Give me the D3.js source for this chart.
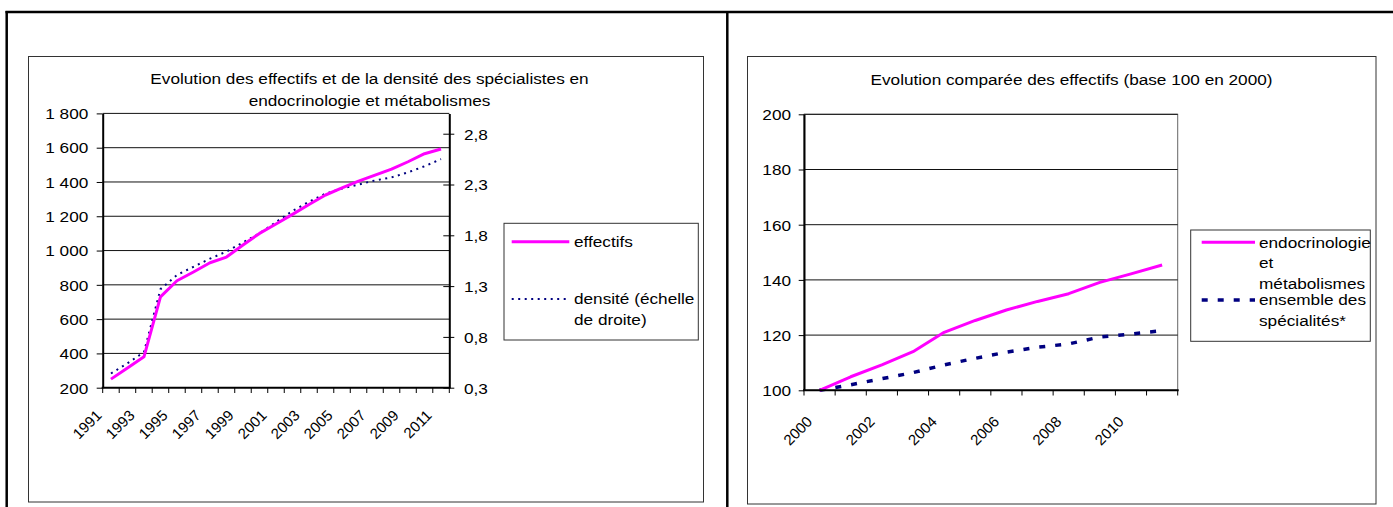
<!DOCTYPE html>
<html><head><meta charset="utf-8">
<script src="https://cdn.jsdelivr.net/npm/d3@7"></script>
<style>
html,body{margin:0;padding:0;background:#fff;}
svg{display:block;font-family:"Liberation Sans",Arial,sans-serif;}
</style></head><body>
<svg id="c" width="1393" height="507"></svg>
<script>
// ---------- Data: left chart ----------
const years1 = [1991,1992,1993,1994,1995,1996,1997,1998,1999,2000,2001,2002,2003,2004,2005,2006,2007,2008,2009,2010,2011];
const effectifs = [250,315,380,730,824,875,929,962,1032,1100,1155,1211,1269,1324,1365,1405,1440,1475,1518,1565,1592];
const densite = [0.44,0.54,0.65,1.27,1.41,1.49,1.57,1.64,1.73,1.82,1.93,2.04,2.13,2.21,2.26,2.30,2.34,2.37,2.42,2.48,2.55];
const ticksLeft1 = [200,400,600,800,1000,1200,1400,1600,1800];
const ticksRight1 = [0.3,0.8,1.3,1.8,2.3,2.8];
const labelYears1 = [1991,1993,1995,1997,1999,2001,2003,2005,2007,2009,2011];
const title1 = ["Evolution des effectifs et de la densité des spécialistes en","endocrinologie et métabolismes"];
const legend1 = [["effectifs"],["densité (échelle","de droite)"]];

// ---------- Data: right chart ----------
const years2 = [2000,2001,2002,2003,2004,2005,2006,2007,2008,2009,2010,2011];
const endocrino = [100,104.9,109.2,114.0,121.0,125.3,129.1,132.2,135.0,139.1,142.2,145.4];
const ensemble = [100,102.0,104.2,106.4,109.2,111.6,113.8,115.6,116.8,119.3,120.4,121.6];
const ticks2 = [100,120,140,160,180,200];
const labelYears2 = [2000,2002,2004,2006,2008,2010];
const title2 = "Evolution comparée des effectifs (base 100 en 2000)";
const legend2 = [["endocrinologie","et","métabolismes"],["ensemble des","spécialités*"]];

const MAGENTA = "#ff00ff", NAVY = "#000080";
const FS = 15.5, SX = 1.11;
const svg = d3.select("#c");

function txt(g, x, y, s, anchor){
  return g.append("text")
    .attr("transform", `translate(${x},${y}) scale(${SX},1)`)
    .attr("text-anchor", anchor || "start")
    .attr("font-size", FS).attr("fill", "#000").text(s);
}
function hline(g, x1, x2, y, w, c){ g.append("line").attr("x1",x1).attr("x2",x2).attr("y1",y).attr("y2",y).attr("stroke",c||"#000").attr("stroke-width",w); }
function vline(g, x, y1, y2, w, c){ g.append("line").attr("x1",x).attr("x2",x).attr("y1",y1).attr("y2",y2).attr("stroke",c||"#000").attr("stroke-width",w); }

// ---------- page lines ----------
hline(svg, 5.5, 1393, 12, 2.5);
vline(svg, 6.7, 11, 507, 2.5);
vline(svg, 727.3, 11, 507, 2.5);

// chart frames
svg.append("rect").attr("x",28.5).attr("y",56.5).attr("width",675).attr("height",445.5)
  .attr("fill","none").attr("stroke","#333").attr("stroke-width",1);
svg.append("rect").attr("x",747.5).attr("y",56.5).attr("width",628.5).attr("height",447.5)
  .attr("fill","none").attr("stroke","#333").attr("stroke-width",1);

// ================= LEFT CHART =================
(function(){
  const g = svg.append("g");
  const x = d3.scaleBand().domain(years1).range([102.7, 449.3]);
  const bw = x.bandwidth();
  const yL = d3.scaleLinear().domain([200,1800]).range([387.7,113.4]);
  const yR = d3.scaleLinear().domain([0.3,3.0]).range([387.7,113.4]);
  const cx = d => x(d) + bw/2;

  // title
  txt(g, 369.5, 84.3, title1[0], "middle");
  txt(g, 369.5, 105.8, title1[1], "middle");

  // gridlines
  ticksLeft1.filter(t => t > 200).forEach(t => hline(g, 102.7, 449.3, yL(t), 1, "#111"));

  // series
  const lineE = d3.line().x((d,i) => cx(years1[i])).y(d => yL(d));
  const lineD = d3.line().x((d,i) => cx(years1[i])).y(d => yR(d));
  g.append("path").datum(densite).attr("d", lineD).attr("fill","none")
    .attr("stroke", NAVY).attr("stroke-width", 2).attr("stroke-dasharray","2,4.5");
  g.append("path").datum(effectifs).attr("d", lineE).attr("fill","none")
    .attr("stroke", MAGENTA).attr("stroke-width", 3).attr("stroke-linejoin","round");

  // left axis
  const fmtL = d => d3.format(",")(d).replace(/,/g, " ");
  const aL = g.append("g").attr("transform","translate(102.7,0)")
    .call(d3.axisLeft(yL).tickValues(ticksLeft1).tickSize(6).tickSizeOuter(0).tickPadding(8.4).tickFormat(fmtL));
  aL.select(".domain").attr("stroke","#000").attr("stroke-width",2);
  aL.selectAll(".tick line").attr("stroke","#000").attr("stroke-width",1);
  aL.selectAll(".tick text").each(function(){
    const t = d3.select(this); const xx = +t.attr("x");
    t.attr("x",0).attr("dy",null).attr("y",0).attr("font-size",FS).attr("fill","#000")
     .attr("transform",`translate(${xx},5.3) scale(${SX},1)`);
  });

  // right axis
  const fmtR = d => d3.format(".1f")(d).replace(".", ",");
  const aR = g.append("g").attr("transform","translate(449.3,0)")
    .call(d3.axisRight(yR).tickValues(ticksRight1).tickSize(5).tickSizeOuter(0).tickPadding(9.7).tickFormat(fmtR));
  aR.select(".domain").attr("stroke","#000").attr("stroke-width",2);
  aR.selectAll(".tick line").attr("x1",-6).attr("stroke","#000").attr("stroke-width",1);
  aR.selectAll(".tick text").each(function(){
    const t = d3.select(this); const xx = +t.attr("x");
    t.attr("x",0).attr("dy",null).attr("y",0).attr("font-size",FS).attr("fill","#000")
     .attr("transform",`translate(${xx},5.3) scale(${SX},1)`);
  });

  // x axis
  hline(g, 101.7, 450.3, 387.7, 2);
  years1.forEach(d => vline(g, x(d), 387.7, 393, 1));
  vline(g, x.range()[1], 387.7, 393, 1);
  labelYears1.forEach(d => {
    g.append("text").attr("transform",`translate(${cx(d)-8.4},416.4) rotate(-45)`)
      .attr("text-anchor","end").attr("font-size",15).attr("fill","#000").text(d);
  });

  // legend
  g.append("rect").attr("x",504).attr("y",223.3).attr("width",194.3).attr("height",116.7)
    .attr("fill","#fff").attr("stroke","#333").attr("stroke-width",1);
  hline(g, 511.7, 569.3, 241.7, 3, MAGENTA);
  txt(g, 574, 247, legend1[0][0]);
  g.append("line").attr("x1",511.7).attr("x2",569.3).attr("y1",299).attr("y2",299)
    .attr("stroke",NAVY).attr("stroke-width",2).attr("stroke-dasharray","2,4.5");
  txt(g, 574, 304.3, legend1[1][0]);
  txt(g, 574, 324.6, legend1[1][1]);
})();

// ================= RIGHT CHART =================
(function(){
  const g = svg.append("g");
  const x = d3.scaleBand().domain(years2).range([804, 1177.7]);
  const bw = x.bandwidth();
  const y = d3.scaleLinear().domain([100,200]).range([390.3,114.3]);
  const cx = d => x(d) + bw/2;

  txt(g, 1071.5, 85.3, title2, "middle");

  // plot border + gridlines
  g.append("rect").attr("x",804).attr("y",114.3).attr("width",373.7).attr("height",276)
    .attr("fill","none").attr("stroke","#666").attr("stroke-width",1);
  ticks2.filter(t => t > 100).forEach(t => hline(g, 804, 1177.7, y(t), 1, "#111"));

  // series
  const ln = d3.line().x((d,i) => cx(years2[i])).y(d => y(d));
  g.append("path").datum(ensemble).attr("d", ln).attr("fill","none")
    .attr("stroke", NAVY).attr("stroke-width", 3.5).attr("stroke-dasharray","6,10");
  g.append("path").datum(endocrino).attr("d", ln).attr("fill","none")
    .attr("stroke", MAGENTA).attr("stroke-width", 3).attr("stroke-linejoin","round");

  // y axis
  const a = g.append("g").attr("transform","translate(804,0)")
    .call(d3.axisLeft(y).tickValues(ticks2).tickSize(5.3).tickSizeOuter(0).tickPadding(7.7).tickFormat(d3.format("d")));
  a.select(".domain").attr("stroke","#000").attr("stroke-width",2);
  a.selectAll(".tick line").attr("stroke","#000").attr("stroke-width",1);
  a.selectAll(".tick text").each(function(){
    const t = d3.select(this); const xx = +t.attr("x");
    t.attr("x",0).attr("dy",null).attr("y",0).attr("font-size",FS).attr("fill","#000")
     .attr("transform",`translate(${xx},5.3) scale(${SX},1)`);
  });

  // x axis
  hline(g, 803, 1178.7, 390.3, 2);
  years2.forEach(d => vline(g, x(d), 390.3, 395.5, 1));
  vline(g, x.range()[1], 390.3, 395.5, 1);
  labelYears2.forEach(d => {
    g.append("text").attr("transform",`translate(${cx(d)-6.3},422.6) rotate(-45)`)
      .attr("text-anchor","end").attr("font-size",15).attr("fill","#000").text(d);
  });

  // legend
  g.append("rect").attr("x",1190.7).attr("y",230).attr("width",179.6).attr("height",111.3)
    .attr("fill","#fff").attr("stroke","#333").attr("stroke-width",1);
  hline(g, 1201.7, 1255, 242.3, 3, MAGENTA);
  txt(g, 1259, 247.6, legend2[0][0]);
  txt(g, 1259, 268, legend2[0][1]);
  txt(g, 1259, 288.6, legend2[0][2]);
  g.append("line").attr("x1",1201.7).attr("x2",1255).attr("y1",300).attr("y2",300)
    .attr("stroke",NAVY).attr("stroke-width",3.5).attr("stroke-dasharray","6,10");
  txt(g, 1259, 305.3, legend2[1][0]);
  txt(g, 1259, 326, legend2[1][1]);
})();
</script>
</body></html>
